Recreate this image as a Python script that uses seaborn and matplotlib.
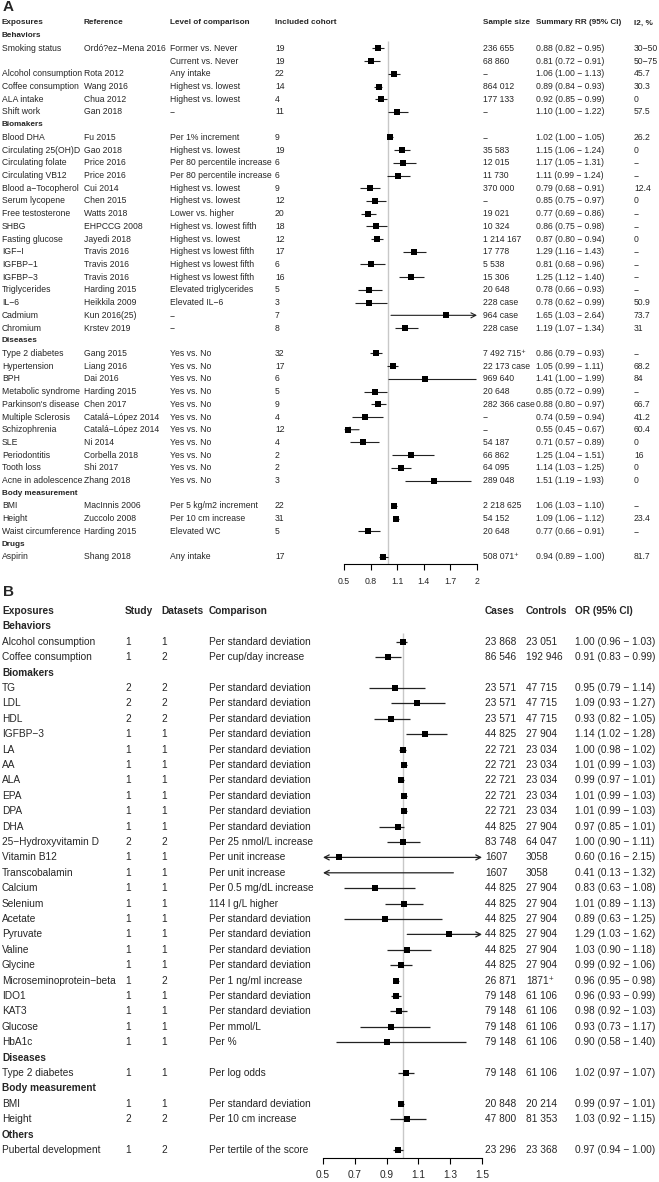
import numpy as np
import matplotlib.pyplot as plt
import matplotlib.transforms as mtransforms
import seaborn as sns

MINUS = "\u2212"

# ---------------- panel A: meta-analyses ----------------
a_group = (["Behaviors"] * 6 + ["Biomakers"] * 16 + ["Diseases"] * 11
           + ["Body measurement"] * 3 + ["Drugs"])
a_exposure = ["Smoking status", "", "Alcohol consumption", "Coffee consumption", "ALA intake",
              "Shift work", "Blood DHA", "Circulating 25(OH)D", "Circulating folate",
              "Circulating VB12", "Blood a−Tocopherol", "Serum lycopene", "Free testosterone",
              "SHBG", "Fasting glucose", "IGF−I", "IGFBP−1", "IGFBP−3", "Triglycerides", "IL−6",
              "Cadmium", "Chromium", "Type 2 diabetes", "Hypertension", "BPH",
              "Metabolic syndrome", "Parkinson's disease", "Multiple Sclerosis", "Schizophrenia",
              "SLE", "Periodontitis", "Tooth loss", "Acne in adolescence", "BMI", "Height",
              "Waist circumference", "Aspirin"]
a_reference = ["Ordó?ez−Mena 2016", "", "Rota 2012", "Wang 2016", "Chua 2012", "Gan 2018",
               "Fu 2015", "Gao 2018", "Price 2016", "Price 2016", "Cui 2014", "Chen 2015",
               "Watts 2018", "EHPCCG 2008", "Jayedi 2018", "Travis 2016", "Travis 2016",
               "Travis 2016", "Harding 2015", "Heikkila 2009", "Kun 2016(25)", "Krstev 2019",
               "Gang 2015", "Liang 2016", "Dai 2016", "Harding 2015", "Chen 2017",
               "Catalá−López 2014", "Catalá−López 2014", "Ni 2014", "Corbella 2018", "Shi 2017",
               "Zhang 2018", "MacInnis 2006", "Zuccolo 2008", "Harding 2015", "Shang 2018"]
a_comparison = ["Former vs. Never", "Current vs. Never", "Any intake", "Highest vs. lowest",
                "Highest vs. lowest", "−", "Per 1% increment", "Highest vs. lowest",
                "Per 80 percentile increase", "Per 80 percentile increase", "Highest vs. lowest",
                "Highest vs. lowest", "Lower vs. higher", "Highest vs. lowest fifth",
                "Highest vs. lowest", "Highest vs lowest fifth", "Highest vs lowest fifth",
                "Highest vs lowest fifth", "Elevated triglycerides", "Elevated IL−6", "−", "−"] \
    + ["Yes vs. No"] * 11 + ["Per 5 kg/m2 increment", "Per 10 cm increase", "Elevated WC",
                             "Any intake"]
a_cohort = [19, 19, 22, 14, 4, 11, 9, 19, 6, 6, 9, 12, 20, 18, 12, 17, 6, 16, 5, 3, 7, 8,
            32, 17, 6, 5, 9, 4, 12, 4, 2, 2, 3, 22, 31, 5, 17]
a_sample = ["236 655", "68 860", "−", "864 012", "177 133", "−", "−", "35 583", "12 015",
            "11 730", "370 000", "−", "19 021", "10 324", "1 214 167", "17 778", "5 538",
            "15 306", "20 648", "228 case", "964 case", "228 case", "7 492 715⁺",
            "22 173 case", "969 640", "20 648", "282 366 case", "−", "−", "54 187", "66 862",
            "64 095", "289 048", "2 218 625", "54 152", "20 648", "508 071⁺"]
a_rr = [0.88, 0.81, 1.06, 0.89, 0.92, 1.10, 1.02, 1.15, 1.17, 1.11, 0.79, 0.85, 0.77, 0.86,
        0.87, 1.29, 0.81, 1.25, 0.78, 0.78, 1.65, 1.19, 0.86, 1.05, 1.41, 0.85, 0.88, 0.74,
        0.55, 0.71, 1.25, 1.14, 1.51, 1.06, 1.09, 0.77, 0.94]
a_lo = [0.82, 0.72, 1.00, 0.84, 0.85, 1.00, 1.00, 1.06, 1.05, 0.99, 0.68, 0.75, 0.69, 0.75,
        0.80, 1.16, 0.68, 1.12, 0.66, 0.62, 1.03, 1.07, 0.79, 0.99, 1.00, 0.72, 0.80, 0.59,
        0.45, 0.57, 1.04, 1.03, 1.19, 1.03, 1.06, 0.66, 0.89]
a_hi = [0.95, 0.91, 1.13, 0.93, 0.99, 1.22, 1.05, 1.24, 1.31, 1.24, 0.91, 0.97, 0.86, 0.98,
        0.94, 1.43, 0.96, 1.40, 0.93, 0.99, 2.64, 1.34, 0.93, 1.11, 1.99, 0.99, 0.97, 0.94,
        0.67, 0.89, 1.51, 1.25, 1.93, 1.10, 1.12, 0.91, 1.00]
a_i2 = ["30−50", "50−75", "45.7", "30.3", "0", "57.5", "26.2", "0", "−", "−", "12.4", "0",
        "−", "−", "0", "−", "−", "−", "−", "50.9", "73.7", "31", "−", "68.2", "84", "−",
        "66.7", "41.2", "60.4", "0", "16", "0", "0", "−", "23.4", "−", "81.7"]
a_ticks = [0.5, 0.8, 1.1, 1.4, 1.7, 2]

# ---------------- panel B: Mendelian randomization ----------------
b_group = (["Behaviors"] * 2 + ["Biomakers"] * 24 + ["Diseases"]
           + ["Body measurement"] * 2 + ["Others"])
b_exposure = ["Alcohol consumption", "Coffee consumption", "TG", "LDL", "HDL", "IGFBP−3", "LA",
              "AA", "ALA", "EPA", "DPA", "DHA", "25−Hydroxyvitamin D", "Vitamin B12",
              "Transcobalamin", "Calcium", "Selenium", "Acetate", "Pyruvate", "Valine",
              "Glycine", "Microseminoprotein−beta", "IDO1", "KAT3", "Glucose", "HbA1c",
              "Type 2 diabetes", "BMI", "Height", "Pubertal development"]
b_study = [1, 1, 2, 2, 2, 1, 1, 1, 1, 1, 1, 1, 2, 1, 1, 1, 1, 1, 1, 1, 1, 1, 1, 1, 1, 1, 1,
           1, 2, 1]
b_datasets = [1, 2, 2, 2, 2, 1, 1, 1, 1, 1, 1, 1, 2, 1, 1, 1, 1, 1, 1, 1, 1, 2, 1, 1, 1, 1,
              1, 1, 2, 2]
b_comparison = ["Per standard deviation", "Per cup/day increase"] \
    + ["Per standard deviation"] * 10 \
    + ["Per 25 nmol/L increase", "Per unit increase", "Per unit increase",
       "Per 0.5 mg/dL increase", "114 l g/L higher"] \
    + ["Per standard deviation"] * 4 \
    + ["Per 1 ng/ml increase", "Per standard deviation", "Per standard deviation",
       "Per mmol/L", "Per %", "Per log odds", "Per standard deviation", "Per 10 cm increase",
       "Per tertile of the score"]
b_cases = ["23 868", "86 546", "23 571", "23 571", "23 571", "44 825", "22 721", "22 721",
           "22 721", "22 721", "22 721", "44 825", "83 748", "1607", "1607", "44 825",
           "44 825", "44 825", "44 825", "44 825", "44 825", "26 871", "79 148", "79 148",
           "79 148", "79 148", "79 148", "20 848", "47 800", "23 296"]
b_controls = ["23 051", "192 946", "47 715", "47 715", "47 715", "27 904", "23 034", "23 034",
              "23 034", "23 034", "23 034", "27 904", "64 047", "3058", "3058", "27 904",
              "27 904", "27 904", "27 904", "27 904", "27 904", "1871⁺", "61 106", "61 106",
              "61 106", "61 106", "61 106", "20 214", "81 353", "23 368"]
b_or = [1.00, 0.91, 0.95, 1.09, 0.93, 1.14, 1.00, 1.01, 0.99, 1.01, 1.01, 0.97, 1.00, 0.60,
        0.41, 0.83, 1.01, 0.89, 1.29, 1.03, 0.99, 0.96, 0.96, 0.98, 0.93, 0.90, 1.02, 0.99,
        1.03, 0.97]
b_lo = [0.96, 0.83, 0.79, 0.93, 0.82, 1.02, 0.98, 0.99, 0.97, 0.99, 0.99, 0.85, 0.90, 0.16,
        0.13, 0.63, 0.89, 0.63, 1.03, 0.90, 0.92, 0.95, 0.93, 0.92, 0.73, 0.58, 0.97, 0.97,
        0.92, 0.94]
b_hi = [1.03, 0.99, 1.14, 1.27, 1.05, 1.28, 1.02, 1.03, 1.01, 1.03, 1.03, 1.01, 1.11, 2.15,
        1.32, 1.08, 1.13, 1.25, 1.62, 1.18, 1.06, 0.98, 0.99, 1.03, 1.17, 1.40, 1.07, 1.01,
        1.15, 1.00]
b_ticks = [0.5, 0.7, 0.9, 1.1, 1.3, 1.5]

W, H = 659, 1182
sns.set_style("white")
plt.rcParams["font.family"] = ["Liberation Sans", "DejaVu Sans"]

fig = plt.figure(figsize=(W / 100, H / 100), dpi=100)


def layout_rows(groups):
    # row 0 is the column header; a bold group row goes in whenever the group changes
    rows, headers = [], []
    r, prev = 1, None
    for g in groups:
        if g != prev:
            headers.append((r, g))
            r += 1
            prev = g
        rows.append(r)
        r += 1
    return rows, headers


def ci_text(e, l, h):
    return f"{e:.2f} ({l:.2f} {MINUS} {h:.2f})"


def forest_panel(x0, x1, row0, step, spine_px, xlim, ticks, est, lo, hi, rows,
                 msize, lw, fs):
    bottom = (spine_px - row0) / step
    top_px = row0 - 0.5 * step
    ax = fig.add_axes([x0 / W, 1 - spine_px / H, (x1 - x0) / W, (spine_px - top_px) / H])
    ax.vlines(1, 1.4, bottom, color="#c8c8c8", lw=1, zorder=0)
    for e, l, h, r in zip(est, lo, hi, rows):
        cut_lo, cut_hi = l < xlim[0], h > xlim[1]
        lc, hc = max(l, xlim[0]), min(h, xlim[1])
        if cut_lo or cut_hi:
            style = "<->" if (cut_lo and cut_hi) else "->"
            if cut_lo and not cut_hi:
                head, tail = lc, hc
            else:
                head, tail = hc, lc
            ax.annotate("", xy=(head, r), xytext=(tail, r),
                        arrowprops=dict(arrowstyle=style + ",head_length=0.35,head_width=0.18",
                                        color="#222222", lw=lw, shrinkA=0, shrinkB=0,
                                        mutation_scale=10))
        else:
            ax.hlines(r, lc, hc, color="#222222", lw=lw, zorder=2)
    sns.scatterplot(x=est, y=rows, marker="s", s=msize, color="black", linewidth=0,
                    ax=ax, legend=False, zorder=3)
    ax.set_xlim(*xlim)
    ax.set_ylim(bottom, -0.5)
    ax.set_yticks([])
    ax.set_xticks(ticks)
    ax.set_xticklabels([f"{t:g}" for t in ticks], fontsize=fs)
    ax.tick_params(axis="x", direction="out", length=4, width=0.8, pad=5, color="black",
                   bottom=True)
    ax.set_xlabel("")
    ax.set_ylabel("")
    ax.patch.set_alpha(0)
    for side in ["left", "top", "right"]:
        ax.spines[side].set_visible(False)
    ax.spines["bottom"].set_color("black")
    ax.spines["bottom"].set_linewidth(0.8)
    return ax


def table(ax, cols, headers_txt, col_x, headers, rows, fs, hfs):
    tr = mtransforms.blended_transform_factory(fig.transFigure, ax.transData)
    for x, h in zip(col_x, headers_txt):
        ax.text(x / W, 0, h, transform=tr, fontsize=hfs, fontweight="bold", va="center",
                ha="left")
    for r, g in headers:
        ax.text(col_x[0] / W, r, g, transform=tr, fontsize=hfs, fontweight="bold",
                va="center", ha="left")
    for x, col in zip(col_x, cols):
        for r, t in zip(rows, col):
            ax.text(x / W, r, str(t), transform=tr, fontsize=fs, va="center", ha="left")


# panel A
a_rows, a_heads = layout_rows(a_group)
ax_a = forest_panel(344, 477, 23, 12.71, 564, (0.5, 2.0), a_ticks, a_rr, a_lo, a_hi,
                    a_rows, 14, 0.8, 6.3)
table(ax_a,
      [a_exposure, a_reference, a_comparison, a_cohort, a_sample,
       [ci_text(e, l, h) for e, l, h in zip(a_rr, a_lo, a_hi)], a_i2],
      ["Exposures", "Reference", "Level of comparison", "Included cohort", "Sample size",
       "Summary RR (95% CI)", "I2, %"],
      [2, 84, 170, 275, 483, 536, 634], a_heads, a_rows, 6.2, 5.9)

# panel B
b_rows, b_heads = layout_rows(b_group)
ax_b = forest_panel(323, 482, 611, 15.4, 1158, (0.5, 1.5), b_ticks, b_or, b_lo, b_hi,
                    b_rows, 20, 0.9, 7.3)
table(ax_b,
      [b_exposure, b_study, b_datasets, b_comparison, b_cases, b_controls,
       [ci_text(e, l, h) for e, l, h in zip(b_or, b_lo, b_hi)]],
      ["Exposures", "Study", "Datasets", "Comparison", "Cases", "Controls", "OR (95% CI)"],
      [2, 125, 161, 209, 485, 526, 575], b_heads, b_rows, 7.3, 7.3)

fig.text(3 / W, 1 - 7 / H, "A", fontsize=11, fontweight="bold", va="center", ha="left")
fig.text(3 / W, 1 - 592 / H, "B", fontsize=11, fontweight="bold", va="center", ha="left")

fig.savefig("out.png", dpi=100)
